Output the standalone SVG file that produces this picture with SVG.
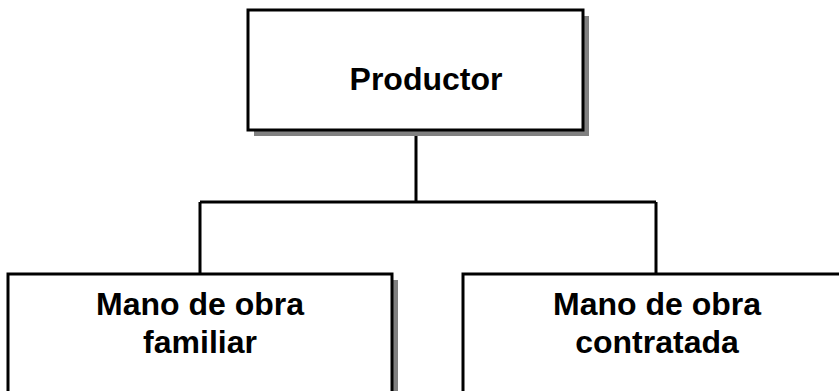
<svg xmlns="http://www.w3.org/2000/svg" width="839" height="391" viewBox="0 0 839 391">
<style>
.box{fill:#fff;stroke:#000;stroke-width:3}
.shadow{fill:#808080}
.conn{fill:none;stroke:#000;stroke-width:3}
text{font-family:"Liberation Sans",Arial,sans-serif;font-weight:bold;font-size:32px;fill:#000;text-anchor:middle}
</style>
<rect width="839" height="391" fill="#fff"/>
<g id="connectors">
<path class="conn" d="M416 130 V202 M200 202 H656 M200 202 V274 M656 202 V274"/>
</g>
<g id="productor">
<rect class="shadow" x="254" y="16" width="335" height="120"/>
<rect class="box" x="248" y="10" width="335" height="120"/>
<text x="426" y="90">Productor</text>
</g>
<g id="familiar">
<rect class="shadow" x="14" y="280" width="384" height="140"/>
<rect class="box" x="8" y="274" width="384" height="140"/>
<text x="200" y="315">Mano de obra</text>
<text x="200" y="353">familiar</text>
</g>
<g id="contratada">
<rect class="shadow" x="469" y="280" width="386" height="140"/>
<rect class="box" x="463" y="274" width="386" height="140"/>
<text x="657" y="315">Mano de obra</text>
<text x="657" y="353">contratada</text>
</g>
</svg>
